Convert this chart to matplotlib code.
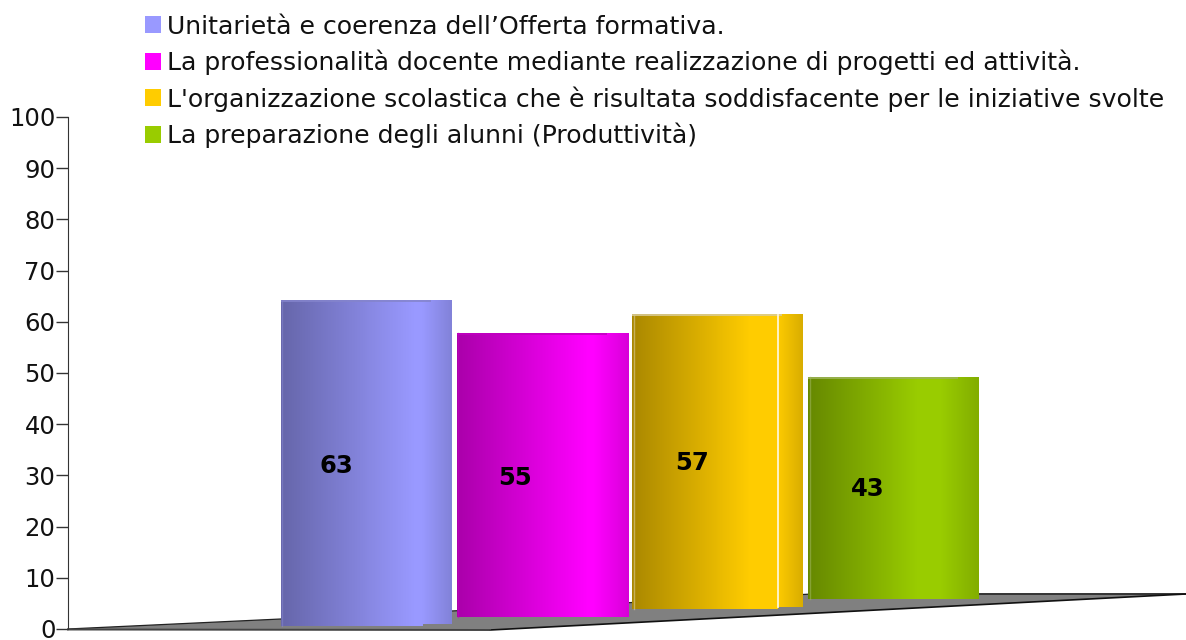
import numpy as np
import matplotlib
matplotlib.use("Agg")
import matplotlib.pyplot as plt
from matplotlib.colors import to_rgb
from matplotlib.patches import Patch

labels = [
    "Unitarietà e coerenza dell’Offerta formativa.",
    "La professionalità docente mediante realizzazione di progetti ed attività.",
    "L'organizzazione scolastica che è risultata soddisfacente per le iniziative svolte",
    "La preparazione degli alunni (Produttività)",
]
values = [63, 55, 57, 43]
colors = ["#9999FF", "#FF00FF", "#FFCC00", "#99CC00"]
rim_colors = ["#8484CC", "#C000C0", "#D9CC9A", "#9DB45A"]
# the floor is drawn in perspective so each bar starts a bit higher
floor_offset = [0.6, 2.35, 3.9, 5.85]
peak_start = [0.78, 0.76, 0.69, 0.64]
peak_end = [0.83, 0.80, 0.85, 0.78]
label_pos = [(-0.17, 31.8), (-0.155, 29.5), (-0.145, 32.5), (-0.145, 27.4)]
yticks = list(range(0, 101, 10))

W, H = 1186, 640
LEFT, Y0, Y100 = 68, 629, 117
fig = plt.figure(figsize=(W / 100, H / 100), dpi=100)
ax = fig.add_axes([LEFT / W, 1 - Y0 / H, (W - LEFT) / W, (Y0 - Y100) / H])

# x data unit: one category = 175.7 px, first bar centre at 366.5 px
step = 175.7
xlim = ((LEFT - 366.5) / step, (W - 366.5) / step)
bar_w = 171.0 / step
height_scale = 1.008


def fig_xy(px, py):
    return px / W, 1 - py / H


# grey floor, below the axes
floor = [(68, 629), (813, 594), (1186, 594), (490, 630)]
fig.add_artist(plt.Polygon([fig_xy(*p) for p in floor], closed=True,
                           transform=fig.transFigure, fc="#808080", ec="none", zorder=-2))
for a, b, lw, col in [((68, 629), (813, 594), 0.9, "#222222"), ((813, 594), (1186, 594), 1.4, "#333333"),
                      ((490, 630), (1186, 594), 1.2, "#111111"), ((68, 629.5), (490, 630), 1.4, "#444444")]:
    fig.add_artist(plt.Line2D([fig_xy(*a)[0], fig_xy(*b)[0]], [fig_xy(*a)[1], fig_xy(*b)[1]],
                              transform=fig.transFigure, color=col, lw=lw, zorder=-1))

ax.patch.set_alpha(0)
xs = np.arange(len(values))
heights = [v * height_scale for v in values]
bars = ax.bar(xs, heights, width=bar_w, bottom=floor_offset, color=colors, zorder=2)

for i, b in enumerate(bars):
    x0, x1 = b.get_x(), b.get_x() + b.get_width()
    y0, y1 = b.get_y(), b.get_y() + b.get_height()
    frac = np.linspace(0, 1, 172)
    shade = np.interp(frac, [0, peak_start[i], peak_end[i], 1], [0.667, 1, 1, 0.85])
    grad = np.array(to_rgb(colors[i]))[None, None, :] * shade[None, :, None]
    ax.imshow(grad, extent=[x0, x1, y0, y1], aspect="auto", interpolation="nearest", zorder=3)
    # thin rim along the top and left side of the cylinder
    ax.plot([x0, x1 - 0.12], [y1 - 0.1, y1 - 0.1], color=rim_colors[i], lw=1.2, zorder=4,
            solid_capstyle="butt")
    ax.plot([x0 + 0.008, x0 + 0.008], [y0, y1], color=rim_colors[i], lw=1.0, alpha=0.6, zorder=4)

# blue and yellow have a small step where the right hand part starts
for i, cut, lift in [(0, 0.83, 0.35), (2, 0.85, 0.4)]:
    b = bars[i]
    xc = b.get_x() + cut * b.get_width()
    ax.fill_between([xc, b.get_x() + b.get_width()], b.get_y() - 0.1, b.get_y() + lift,
                    color="#808080", lw=0, zorder=4)
ax.plot([bars[2].get_x() + 0.85 * bars[2].get_width()] * 2,
        [bars[2].get_y() + 0.4, bars[2].get_y() + bars[2].get_height()],
        color="#FFF6D8", lw=1.3, zorder=5)

for i, v in enumerate(values):
    ax.text(label_pos[i][0] + i, label_pos[i][1], str(v), fontsize=17.5, fontweight="bold",
            ha="center", va="center", color="black", zorder=6)

ax.set_xlim(*xlim)
ax.set_ylim(0, 100)
ax.set_yticks(yticks)
ax.set_xticks([])
ax.tick_params(axis="y", length=9, width=1, labelsize=17.5, pad=0, color="#333333", labelcolor="#111111")
for s in ["top", "right", "bottom"]:
    ax.spines[s].set_visible(False)
ax.spines["left"].set_color("#333333")

handles = [Patch(fc=c, ec="none") for c in colors]
fig.legend(handles, labels, loc="upper left", bbox_to_anchor=(145 / W, 1 - 14.5 / H), frameon=False,
           fontsize=18.1, borderpad=0, borderaxespad=0, handlelength=0.64, handleheight=0.64,
           handletextpad=0.25, labelspacing=0.44, labelcolor="#111111")

fig.savefig("out.png", dpi=100)
